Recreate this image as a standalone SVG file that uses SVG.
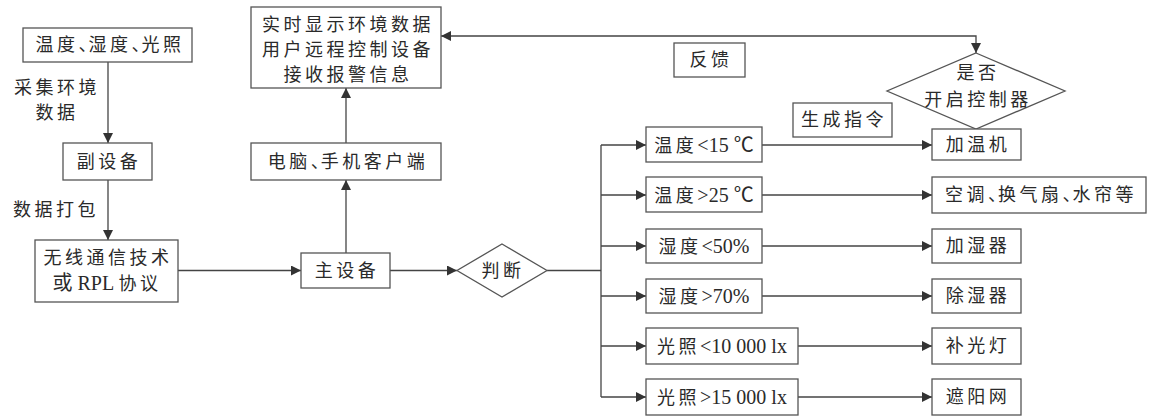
<svg xmlns="http://www.w3.org/2000/svg" width="1152" height="417" viewBox="0 0 1152 417">
<style>
  .box{fill:#fff;stroke:#555;stroke-width:1.3}
  .t{font-family:"Liberation Serif","Noto Sans CJK SC",serif;font-size:18px;fill:#2a2a2a;text-anchor:middle}
  .c{letter-spacing:3.5px}
  .p{letter-spacing:-8px}
  .l{font-size:20px}
  .ln{fill:none;stroke:#444;stroke-width:1.3}
</style>
<defs>
  <marker id="ah" viewBox="0 0 10 10" refX="10" refY="5" markerWidth="10" markerHeight="10" markerUnits="userSpaceOnUse" orient="auto-start-reverse">
    <path d="M0,0 L10,5 L0,10 z" fill="#333"/>
  </marker>
</defs>
<rect width="1152" height="417" fill="#fff"/>

<g id="connectors">
  <path class="ln" d="M108,62 V143" marker-end="url(#ah)"/>
  <path class="ln" d="M108,180 V240" marker-end="url(#ah)"/>
  <path class="ln" d="M178,270.5 H301" marker-end="url(#ah)"/>
  <path class="ln" d="M346,253 V180" marker-end="url(#ah)"/>
  <path class="ln" d="M346,143 V88" marker-end="url(#ah)"/>
  <path class="ln" d="M390,270.5 H457" marker-end="url(#ah)"/>
  <path class="ln" d="M547,270.5 H601"/>
  <path class="ln" d="M601,145 V397"/>
  <path class="ln" d="M601,145 H646" marker-end="url(#ah)"/>
  <path class="ln" d="M601,195 H646" marker-end="url(#ah)"/>
  <path class="ln" d="M601,246 H646" marker-end="url(#ah)"/>
  <path class="ln" d="M601,296 H646" marker-end="url(#ah)"/>
  <path class="ln" d="M601,346 H646" marker-end="url(#ah)"/>
  <path class="ln" d="M601,397 H646" marker-end="url(#ah)"/>
  <path class="ln" d="M762,145 H932" marker-end="url(#ah)"/>
  <path class="ln" d="M762,195 H932" marker-end="url(#ah)"/>
  <path class="ln" d="M762,246 H932" marker-end="url(#ah)"/>
  <path class="ln" d="M762,296 H932" marker-end="url(#ah)"/>
  <path class="ln" d="M798,346 H932" marker-end="url(#ah)"/>
  <path class="ln" d="M798,397 H932" marker-end="url(#ah)"/>
  <path class="ln" d="M441,36 H976 V53" marker-start="url(#ah)" marker-end="url(#ah)"/>
</g>

<g id="sensors">
  <rect class="box" x="23" y="28" width="169" height="34"/>
  <text class="t c" x="110" y="51">温度<tspan class="p">、</tspan>湿度<tspan class="p">、</tspan>光照</text>
</g>
<g id="label-collect">
  <text class="t c" x="57" y="94">采集环境</text>
  <text class="t c" x="57" y="119">数据</text>
</g>
<g id="sub-device">
  <rect class="box" x="63" y="143" width="89" height="37"/>
  <text class="t c" x="109" y="168">副设备</text>
</g>
<g id="label-pack">
  <text class="t c" x="56" y="216">数据打包</text>
</g>
<g id="wireless">
  <rect class="box" x="35" y="240" width="143" height="62"/>
  <text class="t c" x="108" y="264">无线通信技术</text>
  <text class="t" x="107" y="290"><tspan class="l">或 RPL </tspan><tspan class="c">协议</tspan></text>
</g>
<g id="main-device">
  <rect class="box" x="301" y="253" width="89" height="35"/>
  <text class="t c" x="347" y="277">主设备</text>
</g>
<g id="judge">
  <polygon class="box" points="502,244 547,270.5 502,297 457,270.5"/>
  <text class="t c" x="503" y="277">判断</text>
</g>
<g id="client">
  <rect class="box" x="251" y="143" width="190" height="37"/>
  <text class="t c" x="348" y="168">电脑<tspan class="p">、</tspan>手机客户端</text>
</g>
<g id="display">
  <rect class="box" x="251" y="7" width="190" height="81"/>
  <text class="t c" x="348" y="31">实时显示环境数据</text>
  <text class="t c" x="348" y="56">用户远程控制设备</text>
  <text class="t c" x="348" y="81">接收报警信息</text>
</g>
<g id="feedback">
  <rect class="box" x="674" y="43" width="71" height="34"/>
  <text class="t c" x="711" y="66">反馈</text>
</g>
<g id="open-controller">
  <polygon class="box" points="976,53 1065,91 976,129 887,91"/>
  <text class="t c" x="978" y="79">是否</text>
  <text class="t c" x="978" y="106">开启控制器</text>
</g>
<g id="gen-cmd">
  <rect class="box" x="793" y="103" width="99" height="34"/>
  <text class="t c" x="844" y="126">生成指令</text>
</g>

<g id="cond-t-low">
  <rect class="box" x="646" y="127" width="116" height="35"/>
  <text class="t" x="704" y="152"><tspan class="c">温度</tspan><tspan class="l">&lt;15 ℃</tspan></text>
</g>
<g id="cond-t-high">
  <rect class="box" x="646" y="177" width="116" height="35"/>
  <text class="t" x="704" y="202"><tspan class="c">温度</tspan><tspan class="l">&gt;25 ℃</tspan></text>
</g>
<g id="cond-h-low">
  <rect class="box" x="646" y="229" width="116" height="34"/>
  <text class="t" x="704" y="253"><tspan class="c">湿度</tspan><tspan class="l">&lt;50%</tspan></text>
</g>
<g id="cond-h-high">
  <rect class="box" x="646" y="279" width="116" height="34"/>
  <text class="t" x="704" y="303"><tspan class="c">湿度</tspan><tspan class="l">&gt;70%</tspan></text>
</g>
<g id="cond-l-low">
  <rect class="box" x="646" y="328" width="152" height="36"/>
  <text class="t" x="722" y="353"><tspan class="c">光照</tspan><tspan class="l">&lt;10 000 lx</tspan></text>
</g>
<g id="cond-l-high">
  <rect class="box" x="646" y="379" width="152" height="36"/>
  <text class="t" x="722" y="404"><tspan class="c">光照</tspan><tspan class="l">&gt;15 000 lx</tspan></text>
</g>

<g id="heater">
  <rect class="box" x="932" y="129" width="89" height="31"/>
  <text class="t c" x="978" y="151">加温机</text>
</g>
<g id="cooler">
  <rect class="box" x="932" y="177" width="214" height="36"/>
  <text class="t c" x="1041" y="201">空调<tspan class="p">、</tspan>换气扇<tspan class="p">、</tspan>水帘等</text>
</g>
<g id="humidifier">
  <rect class="box" x="932" y="229" width="89" height="34"/>
  <text class="t c" x="978" y="252">加湿器</text>
</g>
<g id="dehumidifier">
  <rect class="box" x="932" y="279" width="89" height="34"/>
  <text class="t c" x="978" y="302">除湿器</text>
</g>
<g id="grow-light">
  <rect class="box" x="932" y="328" width="89" height="36"/>
  <text class="t c" x="978" y="352">补光灯</text>
</g>
<g id="shade-net">
  <rect class="box" x="932" y="379" width="89" height="36"/>
  <text class="t c" x="978" y="403">遮阳网</text>
</g>
</svg>
